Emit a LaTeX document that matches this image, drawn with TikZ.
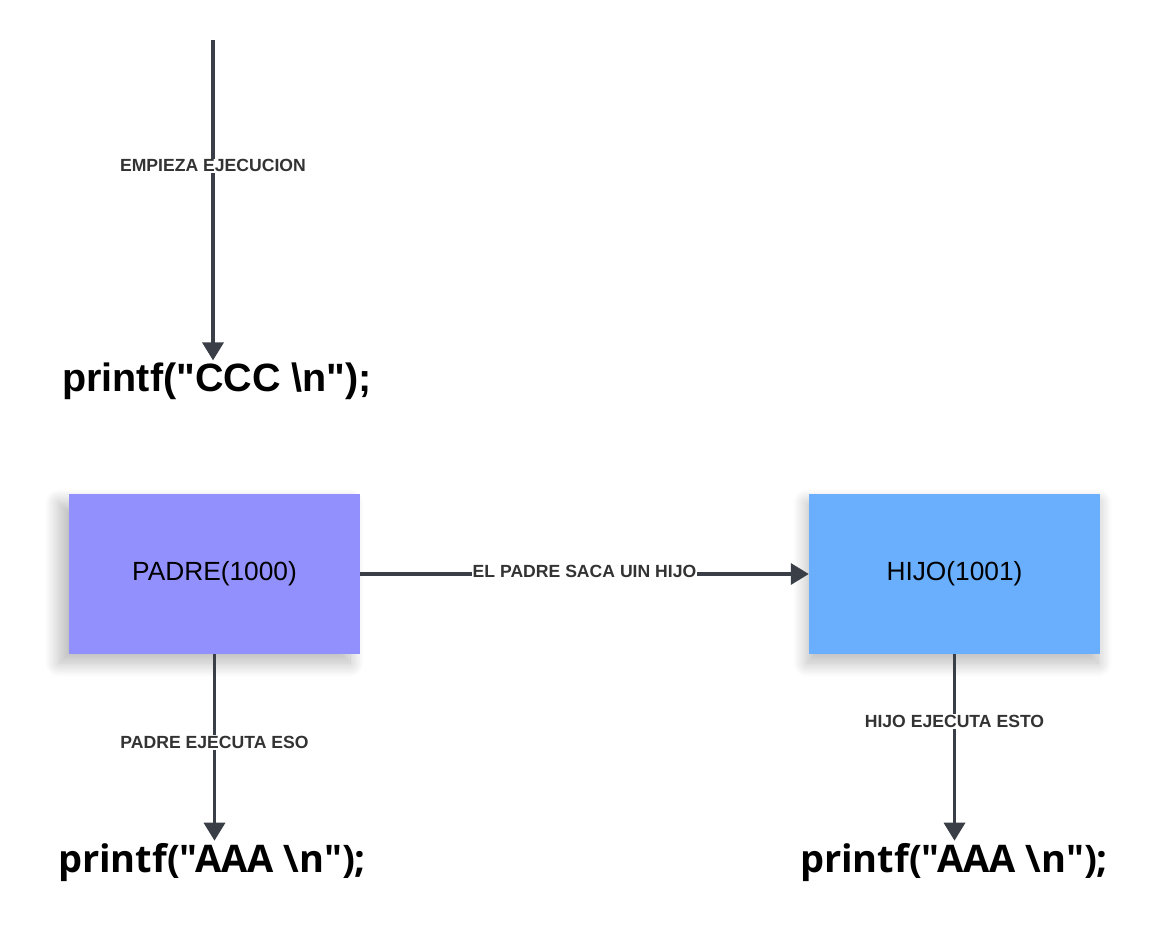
\documentclass[tikz,border=0pt]{standalone}
\usepackage{fontspec}
\setmainfont{Liberation Sans}
\newfontfamily\libcode{Liberation Sans}
\newfontfamily\opensans{Open Sans}
\usetikzlibrary{arrows.meta,shadows.blur}
\definecolor{linec}{HTML}{3A3F47}
\definecolor{padrec}{HTML}{9290FD}
\definecolor{hijoc}{HTML}{6AAFFD}
\definecolor{labc}{HTML}{333333}
\begin{document}
\begin{tikzpicture}[x=1pt,y=-1pt,
 conn/.style={draw=linec, line width=3.5pt, -{Triangle[length=18pt,width=21pt]}},
 lab/.style={fill=white, text=labc, font=\fontsize{17.6}{20}\selectfont\bfseries, inner sep=1pt},
 proc/.style={minimum width=291pt, minimum height=160pt, inner sep=0pt, font=\fontsize{26.3}{30}\selectfont},
 code/.style={font=\libcode\fontsize{39.5}{44}\selectfont\bfseries, inner sep=0pt},
 codeb/.style={font=\opensans\fontsize{38}{44}\selectfont\bfseries, inner sep=0pt}]
\useasboundingbox (0,0) rectangle (1170,935);
\coordinate (start) at (213,40);
\node[code] (ccc) at (217,381) {printf("CCC \textbackslash n");};
\draw[conn, shorten >=2pt] (start) -- (ccc.north -| start)
  node[lab, pos=0.39] (l1) {EMPIEZA EJECUCION};

\node[proc, fill=padrec, blur shadow={shadow xshift=-10pt, shadow yshift=-9pt, shadow blur radius=14pt, shadow blur steps=25, shadow opacity=28}] (padre) at (214.5,574) {PADRE(1000)};
\node[proc, fill=hijoc, blur shadow={shadow xshift=-2pt, shadow yshift=-9pt, shadow blur radius=14pt, shadow blur steps=25, shadow opacity=28}] (hijo) at (954.5,574) {HIJO(1001)};

\draw[conn] (padre.east) -- (hijo.west)
  node[lab, pos=0.5, yshift=3pt] (l2) {EL PADRE SACA UIN HIJO};

\node[codeb] (aaa1) at (212,863) {printf("AAA \textbackslash n");};
\node[codeb] (aaa2) at (954,863) {printf("AAA \textbackslash n");};

\draw[conn, shorten >=3pt] (padre.south) -- (aaa1.north -| padre.south)
  node[lab, pos=0.465] (l3) {PADRE EJECUTA ESO};
\draw[conn, shorten >=3pt] (hijo.south) -- (aaa2.north -| hijo.south)
  node[lab, pos=0.355] (l4) {HIJO EJECUTA ESTO};
\end{tikzpicture}
\end{document}
